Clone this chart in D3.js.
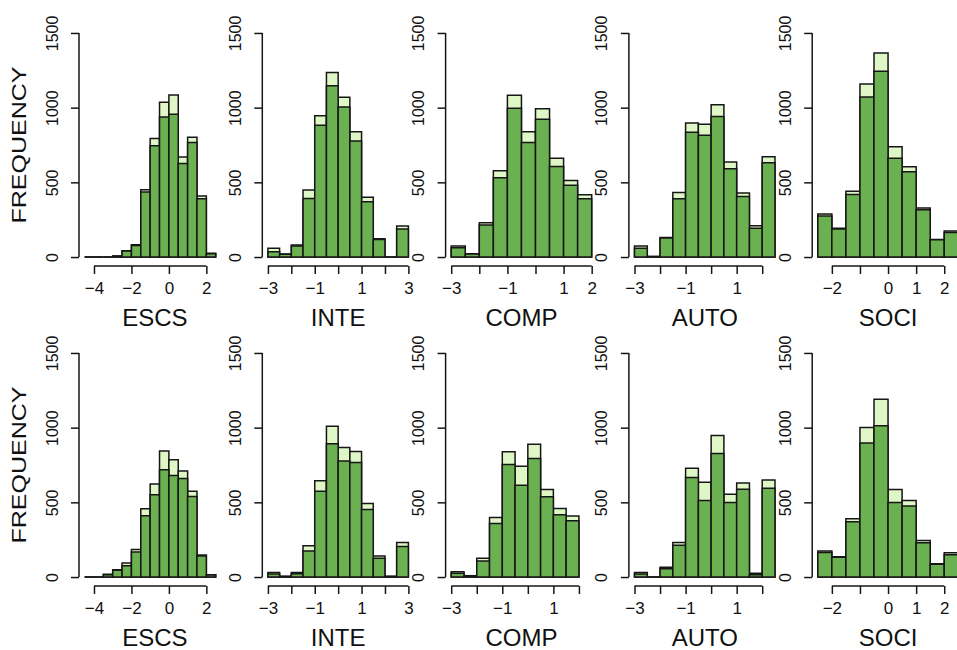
<!DOCTYPE html>
<html>
<head>
<meta charset="utf-8">
<script src="https://cdn.jsdelivr.net/npm/d3@7"></script>
<style>
  body { margin: 0; background: #fff; }
  svg { display: block; overflow: hidden; }
  text { font-family: Arial, "Liberation Sans", sans-serif; fill: #111; }
</style>
</head>
<body>
<svg></svg>
<script>
var variables = ["ESCS", "INTE", "COMP", "AUTO", "SOCI"];
var binWidth = 0.5;
var binStart = [-4.5, -3, -3, -3, -2.5];

// x range of each panel (before R-style 4% padding), top row then bottom row
var xRangeTop = [[-4.5, 3], [-3, 3], [-3, 2], [-3, 2.5], [-2.5, 2.5]];
var xRangeBottom = [[-4.5, 3], [-3, 3], [-3, 2.5], [-3, 2.5], [-2.5, 2.5]];

var xTicks = [[-4, -2, 0, 2], [-3, -2, -1, 0, 1, 2, 3], [-3, -2, -1, 0, 1, 2], [-3, -2, -1, 0, 1, 2], [-2, -1, 0, 1, 2]];
var xLabelsTop = [[-4, -2, 0, 2], [-3, -1, 1, 3], [-3, -1, 1, 2], [-3, -1, 1], [-2, 0, 1, 2]];
var xLabelsBottom = [[-4, -2, 0, 2], [-3, -1, 1, 3], [-3, -1, 1], [-3, -1, 1], [-2, 0, 1, 2]];
var yTicks = [0, 500, 1000, 1500];

// top row: all cases (light) and subset (dark)
var escsAllTop = [0, 0, 0, 7, 42, 82, 450, 793, 1036, 1085, 669, 802, 408, 25];
var escsSubTop = [0, 0, 0, 6, 40, 78, 435, 745, 938, 956, 626, 767, 390, 22];
var inteAllTop = [58, 20, 80, 448, 945, 1235, 1070, 838, 401, 123, 0, 207];
var inteSubTop = [36, 18, 74, 392, 883, 1146, 1005, 776, 370, 118, 0, 187];
var compAllTop = [74, 22, 230, 577, 1083, 838, 992, 662, 513, 417];
var compSubTop = [62, 20, 214, 530, 996, 767, 923, 606, 481, 390];
var autoAllTop = [74, 4, 131, 432, 898, 889, 1019, 637, 428, 210, 671];
var autoSubTop = [58, 3, 128, 390, 836, 816, 941, 591, 406, 192, 631];
var sociAllTop = [288, 192, 441, 1159, 1366, 738, 604, 329, 118, 174];
var sociSubTop = [274, 188, 419, 1072, 1244, 662, 571, 316, 116, 165];

// bottom row
var escsAllBottom = [0, 0, 18, 49, 94, 185, 457, 622, 843, 785, 709, 575, 147, 15];
var escsSubBottom = [0, 0, 15, 45, 76, 167, 410, 551, 718, 680, 660, 539, 140, 13];
var inteAllBottom = [31, 5, 30, 210, 644, 1010, 867, 840, 493, 140, 5, 232];
var inteSubBottom = [20, 4, 22, 174, 575, 892, 776, 767, 452, 125, 4, 205];
var compAllBottom = [36, 9, 125, 399, 838, 742, 889, 586, 459, 408];
var compSubBottom = [25, 7, 107, 359, 753, 615, 794, 537, 417, 377];
var autoAllBottom = [31, 0, 65, 232, 729, 635, 947, 555, 629, 25, 649];
var autoSubBottom = [20, 0, 56, 212, 666, 513, 827, 499, 588, 16, 595];
var sociAllBottom = [174, 136, 390, 1001, 1190, 586, 513, 245, 89, 163];
var sociSubBottom = [165, 132, 370, 898, 1012, 499, 475, 230, 86, 149];

var rows = [
  {all: [escsAllTop, inteAllTop, compAllTop, autoAllTop, sociAllTop],
   sub: [escsSubTop, inteSubTop, compSubTop, autoSubTop, sociSubTop],
   xr: xRangeTop, labels: xLabelsTop},
  {all: [escsAllBottom, inteAllBottom, compAllBottom, autoAllBottom, sociAllBottom],
   sub: [escsSubBottom, inteSubBottom, compSubBottom, autoSubBottom, sociSubBottom],
   xr: xRangeBottom, labels: xLabelsBottom}
];

var width = 957, height = 650;
var plotLeft0 = 79, panelStep = 183.3, plotW = 151.7;
var plotTop0 = 24, plotH = 242, rowStep = 320;
var lightCol = "#dff7c6", darkCol = "#6bb152", lineCol = "#161616";

var svg = d3.select("svg").attr("width", width).attr("height", height);

var pad = function(r) {
  var d = (r[1] - r[0]) * 0.04;
  return [r[0] - d, r[1] + d];
};

var barPath = function(x, y, x0, v) {
  var a = x(x0), b = x(x0 + binWidth), y0 = y(0), y1 = y(v);
  return "M" + a + "," + y0 + "V" + y1 + "H" + b + "V" + y0 + "Z";
};

rows.forEach(function(row, r) {
  var top = plotTop0 + r * rowStep;
  var y = d3.scaleLinear().domain([-60, 1560]).range([top + plotH, top]);

  for (var i = 0; i < variables.length; i++) {
    var left = plotLeft0 + i * panelStep;
    var x = d3.scaleLinear().domain(pad(row.xr[i])).range([left, left + plotW]);
    var g = svg.append("g");

    [row.all[i], row.sub[i]].forEach(function(counts, k) {
      g.selectAll(null)
        .data(counts)
        .enter()
        .append("path")
        .attr("d", function(d, j) { return barPath(x, y, binStart[i] + j * binWidth, d); })
        .attr("fill", k === 0 ? lightCol : darkCol)
        .attr("stroke", lineCol)
        .attr("stroke-width", 1.5);
    });

    // x axis
    var ticks = xTicks[i];
    var labs = row.labels[i];
    var xAxis = d3.axisBottom(x)
      .tickValues(ticks)
      .tickSize(8)
      .tickFormat(function(d) { return labs.indexOf(d) >= 0 ? d3.format("d")(d) : ""; });
    var ax = g.append("g")
      .attr("transform", "translate(0," + (top + plotH) + ")")
      .call(xAxis);
    ax.select(".domain").attr("d", "M" + x(ticks[0]) + ",0H" + x(ticks[ticks.length - 1]))
      .attr("stroke", lineCol).attr("stroke-width", 1.5);
    ax.selectAll(".tick line").attr("stroke", lineCol).attr("stroke-width", 1.5);
    ax.selectAll(".tick text")
      .attr("font-size", 17)
      .attr("font-family", "Arial, 'Liberation Sans', sans-serif")
      .attr("fill", "#111")
      .attr("dy", null)
      .attr("y", 27.5);

    // y axis
    var yAxis = d3.axisLeft(y).tickValues(yTicks).tickSize(8).tickFormat(d3.format("d"));
    var ay = g.append("g")
      .attr("transform", "translate(" + left + ",0)")
      .call(yAxis);
    ay.select(".domain").attr("d", "M0," + y(0) + "V" + y(1500))
      .attr("stroke", lineCol).attr("stroke-width", 1.5);
    ay.selectAll(".tick line").attr("stroke", lineCol).attr("stroke-width", 1.5);
    ay.selectAll(".tick text")
      .attr("font-size", 16)
      .attr("font-family", "Arial, 'Liberation Sans', sans-serif")
      .attr("fill", "#111")
      .attr("text-anchor", "middle")
      .attr("x", null).attr("dy", null)
      .attr("transform", "translate(-21.5,0) rotate(-90)");

    g.append("text")
      .attr("x", left + plotW / 2)
      .attr("y", top + plotH + 59.5)
      .attr("text-anchor", "middle")
      .attr("font-size", 24)
      .text(variables[i]);
  }

  svg.append("text")
    .attr("transform", "translate(26," + (top + plotH / 2) + ") rotate(-90)")
    .attr("text-anchor", "middle")
    .attr("font-size", 21)
    .attr("textLength", 157)
    .attr("lengthAdjust", "spacingAndGlyphs")
    .text("FREQUENCY");
});
</script>
</body>
</html>
